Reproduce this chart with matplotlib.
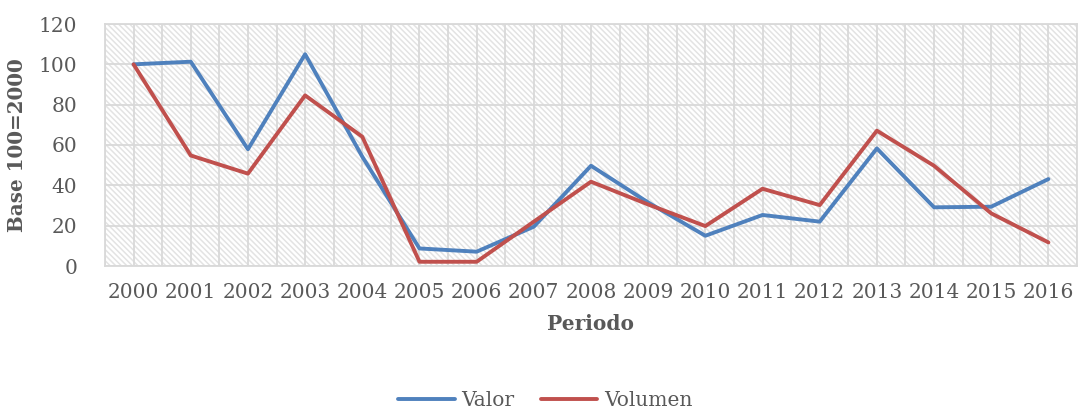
import matplotlib
matplotlib.use("Agg")
import matplotlib.pyplot as plt
from matplotlib.patches import Rectangle
import numpy as np

years = ["2000", "2001", "2002", "2003", "2004", "2005", "2006", "2007", "2008",
         "2009", "2010", "2011", "2012", "2013", "2014", "2015", "2016"]
valor = [100, 101.3, 57.9, 105, 54.2, 8.7, 7.1, 19.5, 49.7,
         31.5, 15, 25.3, 22, 58.3, 29.1, 29.4, 43.1]
volumen = [100, 54.8, 45.8, 84.6, 64.1, 2.1, 2.1, 22, 41.8,
           30.5, 19.8, 38.3, 30.2, 67.1, 49.7, 26.1, 11.7]
yticks = [0, 20, 40, 60, 80, 100, 120]

plt.rcParams['hatch.linewidth'] = 1.1
plt.rcParams['font.family'] = ['DejaVu Serif']

fig = plt.figure(figsize=(10.8, 4.09), dpi=100)
ax = fig.add_axes([105/1080, 1 - 266/409, (1077-105)/1080, (266-24)/409])

x = np.arange(len(years))
ax.set_xlim(-0.5, len(years) - 0.5)
ax.set_ylim(0, 120)

# hatched background
bg = Rectangle((0, 0), 1, 1, transform=ax.transAxes, facecolor='white',
               edgecolor='#E3E3E3', hatch='\\' * 6, linewidth=0, zorder=0)
ax.add_patch(bg)

# grid lines
grid_c = '#D9D9D9'
for gx in np.arange(-0.5, len(years), 0.5):
    ax.axvline(gx, color=grid_c, lw=1.3, zorder=1)
for gy in yticks:
    ax.axhline(gy, color=grid_c, lw=1.3, zorder=1)

ax.plot(x, valor, color='#4F81BD', lw=2.8, zorder=3, label='Valor',
        solid_joinstyle='round', solid_capstyle='round')
ax.plot(x, volumen, color='#C0504D', lw=2.8, zorder=3, label='Volumen',
        solid_joinstyle='round', solid_capstyle='round')

for s in ax.spines.values():
    s.set_color(grid_c)
    s.set_linewidth(1.3)

tc = '#595959'
ax.set_xticks(x)
ax.set_xticklabels(years)
ax.set_yticks(yticks)
ax.tick_params(axis='both', length=0, labelsize=14.5, labelcolor=tc)
ax.tick_params(axis='x', pad=12)
ax.tick_params(axis='y', pad=20)

ax.set_xlabel('Periodo', fontsize=14.5, fontweight='bold', color=tc, labelpad=9)
ax.set_ylabel('Base 100=2000', fontsize=14.3, fontweight='bold', color=tc, labelpad=8)

fig.legend(loc='center', bbox_to_anchor=(0.505, 0.02), ncol=2, frameon=False,
           fontsize=14.5, labelcolor=tc, handlelength=2.8, columnspacing=1.3,
           handletextpad=0.35)

fig.savefig('out.png', dpi=100)
